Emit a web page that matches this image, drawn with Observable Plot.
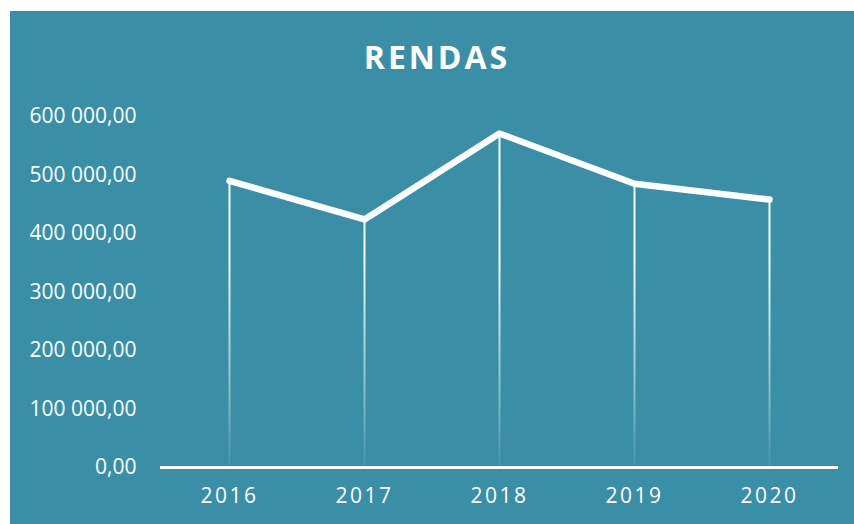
<!DOCTYPE html>
<html>
<head>
<meta charset="utf-8">
<script src="https://cdn.jsdelivr.net/npm/d3@7"></script>
<script src="https://cdn.jsdelivr.net/npm/@observablehq/plot@0.6"></script>
<style>
  html, body { margin: 0; padding: 0; background: #ffffff; width: 854px; height: 524px; overflow: hidden; }
  #card { position: absolute; left: 10px; top: 11px; width: 844px; height: 513px; background: #3A8FA6; }
  #title { position: absolute; left: 0; top: 0; width: 854px; height: 92px; text-align: center;
           font-family: "Open Sans", sans-serif; font-weight: 700; font-size: 32px; letter-spacing: 3px;
           color: #ffffff; line-height: 92px; }
  #chart { position: absolute; left: 0; top: 80px; }
  #chart svg { background: transparent; }
</style>
</head>
<body>
<div id="card">
  <div id="title">RENDAS</div>
  <div id="chart"></div>
</div>
<script>
const years = ["2016", "2017", "2018", "2019", "2020"];
const rendas = [490000, 424000, 571000, 485000, 458000];
const yTicks = [0, 100000, 200000, 300000, 400000, 500000, 600000];

const data = years.map((y, i) => ({year: y, value: rendas[i]}));
const fmt = d3.formatLocale({decimal: ",", thousands: "\u00a0", grouping: [3], currency: ["", ""]}).format(",.2f");

const chart = Plot.plot({
  width: 844,
  height: 444,
  marginLeft: 150,
  marginRight: 16,
  marginTop: 25,
  marginBottom: 68,
  style: {background: "transparent", color: "#ffffff", fontFamily: "Open Sans, sans-serif", fontSize: "21px"},
  x: {type: "point", domain: years, padding: 0.5, label: null},
  y: {domain: [0, 600000], label: null},
  marks: [
    Plot.axisY({ticks: yTicks, tickSize: 0, tickPadding: 24, tickFormat: fmt, fontSize: 21, fill: "#ffffff"}),
    Plot.axisX({tickSize: 0, tickPadding: 21, fontSize: 21, fill: "#ffffff"}),
    Plot.ruleX(data, {x: "year", y1: 0, y2: "value", stroke: "url(#fade)", strokeWidth: 2}),
    Plot.ruleY([0], {stroke: "#ffffff", strokeWidth: 3}),
    Plot.line(data, {x: "year", y: "value", stroke: "#ffffff", strokeWidth: 6.5, strokeLinecap: "round", strokeLinejoin: "round"})
  ]
});

// gradient for drop lines, positioned from the y scale
const ys = chart.scale("y");
const ns = "http://www.w3.org/2000/svg";
const defs = document.createElementNS(ns, "defs");
const grad = document.createElementNS(ns, "linearGradient");
grad.setAttribute("id", "fade");
grad.setAttribute("gradientUnits", "userSpaceOnUse");
grad.setAttribute("x1", 0); grad.setAttribute("x2", 0);
grad.setAttribute("y1", ys.apply(600000));
grad.setAttribute("y2", ys.apply(0));
[[0, 1], [0.4, 0.95], [0.75, 0.45], [1, 0.05]].forEach(([o, a]) => {
  const s = document.createElementNS(ns, "stop");
  s.setAttribute("offset", o);
  s.setAttribute("stop-color", "#ffffff");
  s.setAttribute("stop-opacity", a);
  grad.appendChild(s);
});
defs.appendChild(grad);
chart.insertBefore(defs, chart.firstChild);

chart.querySelectorAll('[aria-label="x-axis tick label"] text').forEach(t => t.setAttribute("letter-spacing", "2.5px"));

document.getElementById("chart").appendChild(chart);
</script>
</body>
</html>
